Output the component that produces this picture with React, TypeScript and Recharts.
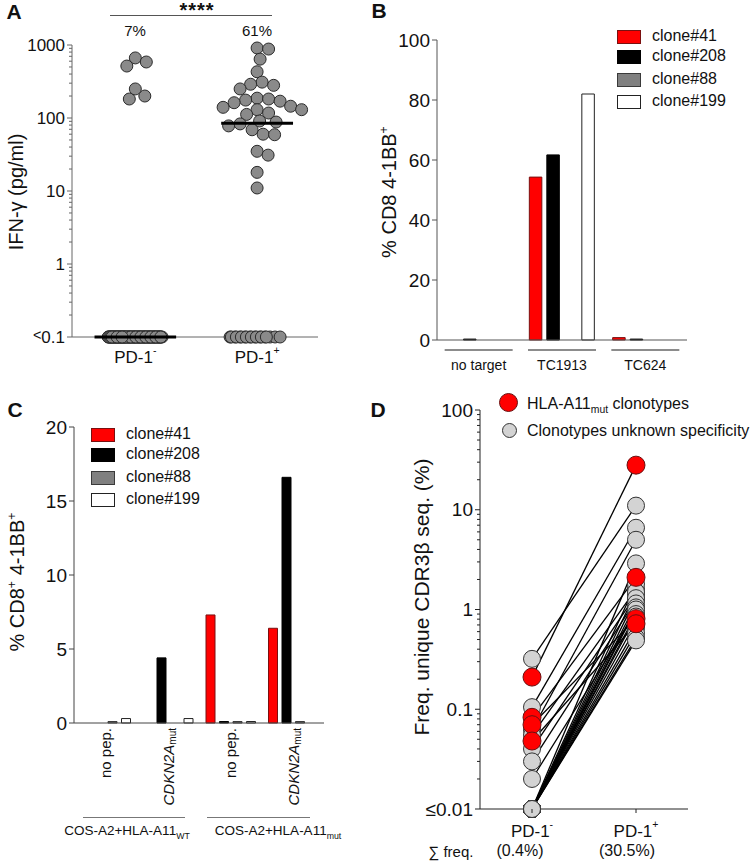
import { ScatterChart, Scatter, XAxis, YAxis, BarChart, Bar } from 'recharts'

const FONT = '"Liberation Sans", Arial, Helvetica, sans-serif'

// ---- A: IFN-γ per clonotype ----
const ifnGroups = ['PD-1', 'PD-1']
const ifnSups = ['-', '+']
const ifnNegDetected = [665, 515, 585, 200, 182, 250]
const ifnPosDetected = [
  910, 880, 640, 430, 310, 290, 280, 250, 187, 182, 176, 170, 162, 145, 140,
  130, 130, 117, 112, 91, 88, 83, 78, 69, 60, 59, 35, 31, 18, 11,
]
const ifnBelowLimit = [80, 19]
const ifnMedians = [0.1, 85]
const ifnPercent = ['7%', '61%']
const ifnMajor = [0.1, 1, 10, 100, 1000]
const ifnMajorLabels = ['<0.1', '1', '10', '100', '1000']

// ---- B: tumor cell lines ----
const clones = ['clone#41', 'clone#208', 'clone#88', 'clone#199']
const tumorTargets = ['no target', 'TC1913', 'TC624']
const tumorClone41 = [0, 54.3, 0.8]
const tumorClone208 = [0.3, 61.7, 0.3]
const tumorClone88 = [0, 0, 0]
const tumorClone199 = [0, 82, 0]
const tumorTicks = [0, 20, 40, 60, 80, 100]

// ---- C: COS targets ----
const pepConditions = ['no pep.', 'CDKN2A', 'no pep.', 'CDKN2A']
const pepClone41 = [0, 0, 7.3, 6.4]
const pepClone208 = [0, 4.4, 0.1, 16.6]
const pepClone88 = [0.1, 0, 0.1, 0.1]
const pepClone199 = [0.3, 0.3, 0.1, 0]
const pepTicks = [0, 5, 10, 15, 20]

// ---- D: CDR3β frequencies ----
const freqGroups = ['PD-1', 'PD-1']
const freqSups = ['-', '+']
const sumFreq = ['(0.4%)', '(30.5%)']
const mutFreqNeg = [0.21, 0.083, 0.07, 0.048]
const mutFreqPos = [28, 2.1, 0.81, 0.72]
const otherFreqNeg = [
  0.32, 0.105, 0.062, 0.055, 0.04, 0.03, 0.02,
  0.01, 0.01, 0.01, 0.01, 0.01, 0.01, 0.01, 0.01, 0.01, 0.01, 0.01, 0.01, 0.01, 0.01,
]
const otherFreqPos = [
  11, 6.6, 5.0, 1.6, 1.4, 1.25, 0.95,
  2.9, 1.8, 1.5, 1.3, 1.15, 1.05, 1.0, 0.9, 0.85, 0.75, 0.65, 0.58, 0.52, 0.49,
]
const freqMajor = [0.01, 0.1, 1, 10, 100]
const freqMajorLabels = ['≤0.01', '0.1', '1', '10', '100']

const cloneFill = ['#ff0000', '#000000', '#808080', '#ffffff']
const cloneStroke = ['#7a1010', '#000000', '#3a3a3a', '#222222']

const logTicks = (lo: number, hi: number) => {
  const out: number[] = []
  for (let d = lo; d < hi * 0.999; d *= 10)
    for (let k = 1; k < 10; k++) out.push(+(k * d).toPrecision(3))
  out.push(hi)
  return out
}

// simple beeswarm in pixel space
function swarmOffsets(values: number[], pxPerDecade: number, minDist: number) {
  const order = values.map((_, i) => i).sort((a, b) => values[b] - values[a])
  const placed: { x: number; y: number }[] = []
  const offs = new Array(values.length).fill(0)
  for (const i of order) {
    const y = -Math.log10(values[i]) * pxPerDecade
    for (let k = 0; k < 400; k++) {
      const step = Math.ceil(k / 2) * 0.5
      const cand = k % 2 === 1 ? step : -step
      if (placed.every((p) => Math.hypot(p.x - cand, p.y - y) >= minDist)) {
        offs[i] = cand
        placed.push({ x: cand, y })
        break
      }
    }
  }
  return offs
}

const A_PX_UNIT = 246 / 2.02
const zeroOffset = (j: number) => ((j % 11) - 5) * 5 + (Math.floor(j / 11) % 4) * 1.25 - 2

const ifnPoints = [ifnNegDetected, ifnPosDetected].flatMap((vals, g) => {
  const offs = swarmOffsets(vals, 73, 11.5)
  const below = Array.from({ length: ifnBelowLimit[g] }, (_, j) => ({
    x: g + zeroOffset(j) / A_PX_UNIT,
    y: 0.1,
  }))
  return [...below, ...vals.map((v, i) => ({ x: g + offs[i] / A_PX_UNIT, y: v }))]
})

const tumorData = tumorTargets.map((name, i) => ({
  name,
  c41: tumorClone41[i],
  c208: tumorClone208[i],
  c88: tumorClone88[i],
  c199: tumorClone199[i],
}))

const pepData = pepConditions.map((_, i) => ({
  id: i,
  c41: pepClone41[i],
  c208: pepClone208[i],
  c88: pepClone88[i],
  c199: pepClone199[i],
}))

const noDot = () => <g />

function LogTick(props: any) {
  const { x, y, payload, majors, labels, size, stroke } = props
  const i = majors.findIndex((m: number) => Math.abs(m - payload.value) / m < 1e-6)
  const major = i >= 0
  const lab: string = major ? labels[i] : ''
  return (
    <g>
      <line x1={x} x2={x - (major ? 5 : 3)} y1={y} y2={y} stroke={stroke} strokeWidth={1} />
      {major && (
        <text x={x - 7} y={y} textAnchor="end" dominantBaseline="central" fontSize={size} fill="#111" fontFamily={FONT}>
          {lab.startsWith('<') ? (
            <>
              <tspan fontSize={size * 0.85} dy={-2}>{'<'}</tspan>
              <tspan dy={2}>{lab.slice(1)}</tspan>
            </>
          ) : (
            lab
          )}
        </text>
      )}
    </g>
  )
}

function SupTick(props: any) {
  const { x, y, payload, labels, sups, dy, size, mark } = props
  const i = Math.round(payload.value)
  return (
    <g>
      {mark && <line x1={x} x2={x} y1={y} y2={y + 4} stroke="#222" />}
      <text x={x} y={y + dy} textAnchor="middle" dominantBaseline="central" fontSize={size} fill="#111" fontFamily={FONT}>
        {labels[i]}
        <tspan dy={-7} fontSize={size * 0.62}>{sups[i]}</tspan>
      </text>
    </g>
  )
}

function GroupTick(props: any) {
  const { x, y, payload } = props
  return (
    <g>
      <line x1={x - 34} x2={x + 34} y1={y + 10} y2={y + 10} stroke="#666" strokeWidth={1.5} />
      <text x={x} y={y + 25} textAnchor="middle" dominantBaseline="central" fontSize={14} fill="#111" fontFamily={FONT}>
        {payload.value}
      </text>
    </g>
  )
}

function PepTick(props: any) {
  const { x, y, payload } = props
  const label = pepConditions[payload.value]
  const ay = y + 5
  return (
    <text
      x={x}
      y={ay}
      transform={`rotate(-90 ${x} ${ay})`}
      textAnchor="end"
      dominantBaseline="central"
      fontSize={15}
      fill="#111"
      fontFamily={FONT}
    >
      {label === 'CDKN2A' ? (
        <>
          <tspan fontStyle="italic">CDKN2A</tspan>
          <tspan fontSize={10} dy={4}>mut</tspan>
        </>
      ) : (
        label
      )}
    </text>
  )
}

function PanelA() {
  return (
    <ScatterChart width={330} height={380} margin={{ top: 45, right: 12, bottom: 0, left: 10 }}>
      <XAxis
        type="number"
        dataKey="x"
        domain={[-0.52, 1.5]}
        ticks={[0, 1]}
        interval={0}
        height={43}
        axisLine={{ stroke: '#666' }}
        tickLine={false}
        tickSize={0}
        tickMargin={0}
        tick={(p: any) => <SupTick {...p} labels={ifnGroups} sups={ifnSups} dy={20} size={17} />}
      />
      <YAxis
        type="number"
        dataKey="y"
        scale="log"
        domain={[0.1, 1000]}
        ticks={logTicks(0.1, 1000)}
        interval={0}
        width={62}
        axisLine={{ stroke: '#666' }}
        tickLine={false}
        tickSize={0}
        tickMargin={0}
        tick={(p: any) => <LogTick {...p} majors={ifnMajor} labels={ifnMajorLabels} size={17} stroke="#666" />}
      />
      <Scatter
        data={ifnPoints}
        isAnimationActive={false}
        shape={(p: any) => <circle cx={p.cx} cy={p.cy} r={6} fill="#8a8a8a" stroke="#2a2a2a" strokeWidth={1} />}
      />
      {ifnMedians.map((m, g) => {
        const w = g === 0 ? 0.335 : 0.295
        return (
          <Scatter
            key={g}
            data={[{ x: g - w, y: m }, { x: g + w, y: m }]}
            line={{ stroke: '#000', strokeWidth: 3 }}
            shape={noDot}
            isAnimationActive={false}
          />
        )
      })}
    </ScatterChart>
  )
}

function PanelB() {
  const keys = ['c41', 'c208', 'c88', 'c199']
  return (
    <BarChart width={374} height={380} data={tumorData} margin={{ top: 40, right: 67, bottom: 0, left: 7 }} barSize={12.5} barGap={5}>
      <XAxis
        dataKey="name"
        height={40}
        interval={0}
        axisLine={{ stroke: '#555' }}
        tickLine={false}
        tickSize={0}
        tickMargin={0}
        tick={(p: any) => <GroupTick {...p} />}
      />
      <YAxis
        width={50}
        domain={[0, 100]}
        ticks={tumorTicks}
        interval={0}
        axisLine={{ stroke: '#555' }}
        tickLine={{ stroke: '#555' }}
        tickSize={5}
        tickMargin={2}
        tick={{ fontSize: 19, fill: '#111', fontFamily: FONT }}
      />
      {keys.map((k, i) => (
        <Bar key={k} dataKey={k} fill={cloneFill[i]} stroke={cloneStroke[i]} strokeWidth={1} isAnimationActive={false} />
      ))}
    </BarChart>
  )
}

function PanelC() {
  const keys = ['c41', 'c208', 'c88', 'c199']
  return (
    <BarChart width={380} height={453} data={pepData} margin={{ top: 17, right: 56, bottom: 0, left: 14 }} barSize={9} barGap={4.5}>
      <XAxis
        dataKey="id"
        height={140}
        interval={0}
        axisLine={{ stroke: '#444' }}
        tickLine={false}
        tickSize={0}
        tickMargin={0}
        tick={(p: any) => <PepTick {...p} />}
      />
      <YAxis
        width={60}
        domain={[0, 20]}
        ticks={pepTicks}
        interval={0}
        axisLine={{ stroke: '#444' }}
        tickLine={{ stroke: '#444' }}
        tickSize={5}
        tickMargin={2}
        tick={{ fontSize: 19, fill: '#111', fontFamily: FONT }}
      />
      {keys.map((k, i) => (
        <Bar key={k} dataKey={k} fill={cloneFill[i]} stroke={cloneStroke[i]} strokeWidth={1} isAnimationActive={false} />
      ))}
    </BarChart>
  )
}

function PanelD() {
  const otherPairs = otherFreqNeg.map((v, i) => [v, otherFreqPos[i]])
  const mutPairs = mutFreqNeg.map((v, i) => [v, mutFreqPos[i]])
  const pairs = [...otherPairs, ...mutPairs]
  const grayPts = otherPairs.flatMap(([a, b]) => [{ x: 0, y: a }, { x: 1, y: b }])
  const redPts = mutPairs.flatMap(([a, b]) => [{ x: 0, y: a }, { x: 1, y: b }])
  return (
    <ScatterChart width={374} height={483} margin={{ top: 30, right: 66, bottom: 0, left: 20 }}>
      <XAxis
        type="number"
        dataKey="x"
        domain={[-0.5, 1.5]}
        ticks={[0, 1]}
        interval={0}
        height={54}
        axisLine={{ stroke: '#222' }}
        tickLine={false}
        tickSize={0}
        tickMargin={0}
        tick={(p: any) => <SupTick {...p} labels={freqGroups} sups={freqSups} dy={22} size={17} mark />}
      />
      <YAxis
        type="number"
        dataKey="y"
        scale="log"
        domain={[0.01, 100]}
        ticks={logTicks(0.01, 100)}
        interval={0}
        width={80}
        axisLine={{ stroke: '#222' }}
        tickLine={false}
        tickSize={0}
        tickMargin={0}
        tick={(p: any) => <LogTick {...p} majors={freqMajor} labels={freqMajorLabels} size={19} stroke="#222" />}
      />
      {pairs.map(([a, b], i) => (
        <Scatter
          key={i}
          data={[{ x: 0, y: a }, { x: 1, y: b }]}
          line={{ stroke: '#000', strokeWidth: 1.3 }}
          shape={noDot}
          isAnimationActive={false}
        />
      ))}
      <Scatter
        data={grayPts}
        isAnimationActive={false}
        shape={(p: any) => <circle cx={p.cx} cy={p.cy} r={8.5} fill="#d3d3d3" stroke="#333" strokeWidth={1} />}
      />
      <Scatter
        data={redPts}
        isAnimationActive={false}
        shape={(p: any) => <circle cx={p.cx} cy={p.cy} r={9} fill="#ff0000" stroke="#6a1010" strokeWidth={1} />}
      />
    </ScatterChart>
  )
}

function Txt({ x, y, size = 16, bold = false, rotate = false, start = false, children }: any) {
  return (
    <div
      style={{
        position: 'absolute',
        left: x,
        top: y,
        transform: `translate(${start ? '0' : '-50%'},-50%)${rotate ? ' rotate(-90deg)' : ''}`,
        fontSize: size,
        fontWeight: bold ? 700 : 400,
        whiteSpace: 'nowrap',
        lineHeight: 1,
      }}
    >
      {children}
    </div>
  )
}

function CloneLegend({ x, y, rows }: { x: number; y: number; rows: number[] }) {
  return (
    <>
      {clones.map((c, i) => (
        <div key={c}>
          <div
            style={{
              position: 'absolute',
              left: x,
              top: y + rows[i] - 6.5,
              width: 22,
              height: 12,
              background: cloneFill[i],
              border: `1px solid ${cloneStroke[i]}`,
            }}
          />
          <Txt x={x + 35} y={y + rows[i]} start size={16}>{c}</Txt>
        </div>
      ))}
    </>
  )
}

const sup = { fontSize: '0.62em', verticalAlign: 'super', lineHeight: 0 } as const
const sub = { fontSize: '0.65em', verticalAlign: 'sub', lineHeight: 0 } as const

export default function App() {
  return (
    <div style={{ position: 'relative', width: 754, height: 863, background: '#fff', fontFamily: FONT, color: '#111', overflow: 'hidden' }}>
      <style>{'body{margin:0}'}</style>
      <div style={{ position: 'absolute', left: 0, top: 0 }}><PanelA /></div>
      <div style={{ position: 'absolute', left: 380, top: 0 }}><PanelB /></div>
      <div style={{ position: 'absolute', left: 0, top: 410 }}><PanelC /></div>
      <div style={{ position: 'absolute', left: 380, top: 380 }}><PanelD /></div>

      {/* panel letters */}
      <Txt x={14} y={11} size={21} bold>A</Txt>
      <Txt x={379} y={10} size={21} bold>B</Txt>
      <Txt x={15} y={409} size={21} bold>C</Txt>
      <Txt x={378} y={409} size={21} bold>D</Txt>

      {/* A extras */}
      <div style={{ position: 'absolute', left: 110, top: 15, width: 162, height: 0, borderTop: '1px solid #555' }} />
      <div style={{ position: 'absolute', left: 197, top: 0, transform: 'translateX(-50%)', fontSize: 20, fontWeight: 700, lineHeight: 1, letterSpacing: 1 }}>****</div>
      {ifnPercent.map((t, g) => (
        <Txt key={t} x={135 + g * 122} y={30} size={15}>{t}</Txt>
      ))}
      <Txt x={16} y={192} size={20} rotate>IFN-γ (pg/ml)</Txt>

      {/* B extras */}
      <Txt x={389} y={192} size={20} rotate>% CD8 4-1BB<span style={sup}>+</span></Txt>
      <CloneLegend x={617} y={0} rows={[36, 56, 79, 101]} />

      {/* C extras */}
      <Txt x={17} y={582} size={20} rotate>
        % CD8<span style={sup}>+</span> 4-1BB<span style={sup}>+</span>
      </Txt>
      <CloneLegend x={91} y={420} rows={[14, 34, 57, 79]} />
      <div style={{ position: 'absolute', left: 83, top: 817, width: 102, borderTop: '1.5px solid #777' }} />
      <div style={{ position: 'absolute', left: 207, top: 817, width: 103, borderTop: '1.5px solid #777' }} />
      <Txt x={127} y={831} size={13.5}>COS-A2+HLA-A11<span style={sub}>WT</span></Txt>
      <Txt x={278} y={831} size={13.5}>COS-A2+HLA-A11<span style={sub}>mut</span></Txt>

      {/* D extras */}
      <Txt x={421} y={597} size={21} rotate>Freq. unique CDR3β seq. (%)</Txt>
      <div style={{ position: 'absolute', left: 499, top: 393, width: 19, height: 19, borderRadius: '50%', background: '#ff0000', border: '1px solid #6a1010', boxSizing: 'border-box' }} />
      <Txt x={527} y={404} start size={16}>HLA-A11<span style={sub}>mut</span> clonotypes</Txt>
      <div style={{ position: 'absolute', left: 502, top: 423, width: 15, height: 15, borderRadius: '50%', background: '#d3d3d3', border: '1px solid #333', boxSizing: 'border-box' }} />
      <Txt x={527} y={431} start size={16}>Clonotypes unknown specificity</Txt>
      <Txt x={451} y={851} size={15}>∑ freq.</Txt>
      {sumFreq.map((t, g) => (
        <Txt key={t} x={520 + g * 107} y={851} size={16}>{t}</Txt>
      ))}
    </div>
  )
}
